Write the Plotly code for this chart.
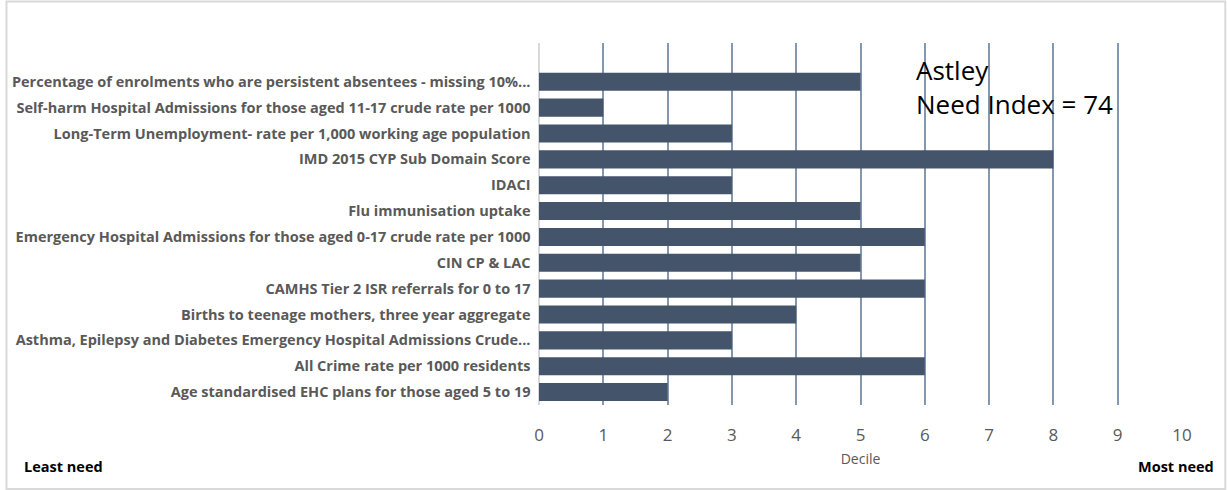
import plotly.graph_objects as go

categories = [
    "Percentage of enrolments who are persistent absentees - missing 10%...",
    "Self-harm Hospital Admissions for those aged 11-17 crude rate per 1000",
    "Long-Term Unemployment- rate per 1,000 working age population",
    "IMD 2015 CYP Sub Domain Score",
    "IDACI",
    "Flu immunisation uptake",
    "Emergency Hospital Admissions for those aged 0-17 crude rate per 1000",
    "CIN CP & LAC",
    "CAMHS Tier 2 ISR referrals for 0 to 17",
    "Births to teenage mothers, three year aggregate",
    "Asthma, Epilepsy and Diabetes Emergency Hospital Admissions Crude...",
    "All Crime rate per 1000 residents",
    "Age standardised EHC plans for those aged 5 to 19",
]
deciles = [5, 1, 3, 8, 3, 5, 6, 5, 6, 4, 3, 6, 2]
x_ticks = list(range(0, 11))

W, H = 1227, 490
ml, mr, mt, mb = 536, 45, 43, 85
pw, ph = W - ml - mr, H - mt - mb

fig = go.Figure()
fig.add_trace(go.Bar(
    x=deciles, y=categories, orientation="h",
    marker=dict(color="#44546A", line=dict(width=0)),
    width=0.7, hoverinfo="x+y",
))

font_fam = "Open Sans, Liberation Sans, sans-serif"
fig.update_layout(
    width=W, height=H,
    margin=dict(l=ml, r=mr, t=mt, b=mb, pad=0),
    paper_bgcolor="white", plot_bgcolor="white",
    showlegend=False,
    bargap=0.3,
    xaxis=dict(
        range=[0, 10], tickvals=x_ticks, ticktext=[str(v) for v in x_ticks],
        showgrid=True, gridcolor="#8497B0", gridwidth=1.5,
        zeroline=True, zerolinecolor="#D9D9D9", zerolinewidth=1.5,
        showline=False, ticks="", ticklabelstandoff=18,
        tickfont=dict(family=font_fam, size=17, color="#595959"),
        title=dict(text="Decile", font=dict(family=font_fam, size=14, color="#595959"), standoff=9),
    ),
    yaxis=dict(
        type="category", categoryorder="array", categoryarray=categories,
        autorange=False, range=[12.5, -1.5],
        showgrid=False, zeroline=False, showline=False, ticks="",
        ticksuffix="  ",
        tickfont=dict(family=font_fam, size=14.5, color="#595959", weight="bold"),
    ),
)

fig.add_annotation(
    text="Astley<br>Need Index = 74", x=(913 - ml) / pw, y=1 - (50 - mt) / ph,
    xref="paper", yref="paper", xanchor="left", yanchor="top", showarrow=False,
    align="left", font=dict(family=font_fam, size=26, color="black"),
)
fig.add_annotation(
    text="<b>Least need</b>", x=(17 - ml) / pw, y=1 - (467 - mt) / ph,
    xref="paper", yref="paper", xanchor="left", yanchor="middle", showarrow=False,
    font=dict(family=font_fam, size=14.5, color="black"),
)
fig.add_annotation(
    text="<b>Most need</b>", x=(1216 - ml) / pw, y=1 - (467 - mt) / ph,
    xref="paper", yref="paper", xanchor="right", yanchor="middle", showarrow=False,
    font=dict(family=font_fam, size=14.5, color="black"),
)
fig.add_shape(
    type="rect", xref="paper", yref="paper",
    x0=(1 - ml) / pw, x1=(W - 1.5 - ml) / pw,
    y0=1 - (H - 1 - mt) / ph, y1=1 - (1.5 - mt) / ph,
    line=dict(color="#D9D9D9", width=2), fillcolor="rgba(0,0,0,0)", layer="below",
)

fig.write_html(
    "out.html",
    config={"displayModeBar": False},
    post_script="document.body.style.margin='0';document.body.style.overflow='hidden';",
)
